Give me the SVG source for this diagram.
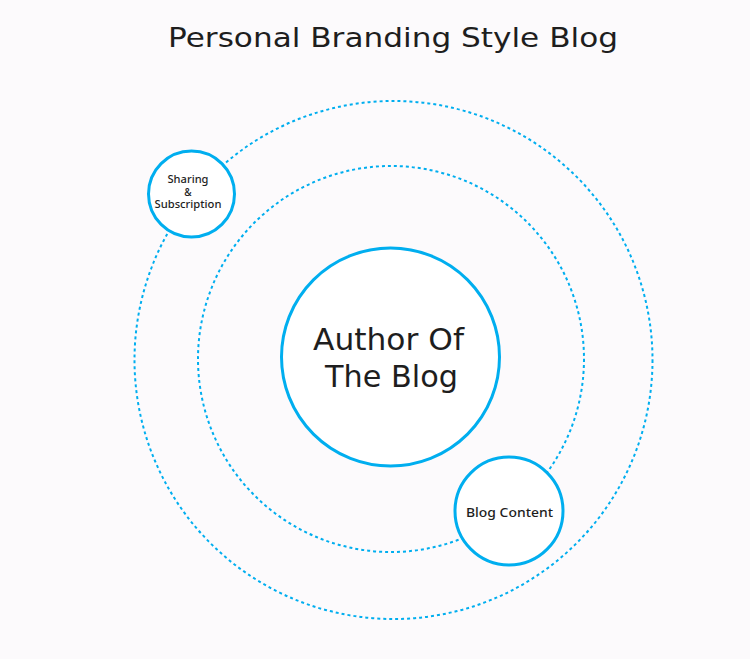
<svg xmlns="http://www.w3.org/2000/svg" width="750" height="659" viewBox="0 0 750 659">
<style>
.orbit{fill:none;stroke:#00aeef;stroke-width:2;stroke-dasharray:3 3}
.node{fill:#ffffff;stroke:#00aeef;stroke-width:3}
text{font-family:"DejaVu Sans","Liberation Sans",sans-serif;fill:#1e1e1e;text-anchor:middle}
.title{font-size:27px}
.main{font-size:30px}
.small{font-family:"Noto Sans","DejaVu Sans",sans-serif;font-size:10px;font-weight:500}
.mid{font-family:"Noto Sans","DejaVu Sans",sans-serif;font-size:12.5px;font-weight:500}
</style>
<rect width="750" height="659" fill="#fcfafc"/>
<text class="title" x="393" y="47" textLength="450" lengthAdjust="spacingAndGlyphs">Personal Branding Style Blog</text>
<g id="connectors">
<circle class="orbit" cx="393.5" cy="360" r="259"/>
<circle class="orbit" cx="391" cy="359" r="193"/>
</g>
<g id="author">
<circle class="node" cx="390.5" cy="357" r="109"/>
<text class="main" x="388.5" y="350" textLength="151" lengthAdjust="spacingAndGlyphs">Author Of</text>
<text class="main" x="391.5" y="387" textLength="133" lengthAdjust="spacingAndGlyphs">The Blog</text>
</g>
<g id="sharing">
<circle class="node" cx="191.5" cy="194" r="43"/>
<text class="small" x="188" y="183" textLength="41" lengthAdjust="spacingAndGlyphs">Sharing</text>
<text class="small" x="188" y="195.5">&amp;</text>
<text class="small" x="188" y="208" textLength="67" lengthAdjust="spacingAndGlyphs">Subscription</text>
</g>
<g id="content">
<circle class="node" cx="509" cy="511" r="54"/>
<text class="mid" x="509.5" y="517" textLength="87" lengthAdjust="spacingAndGlyphs">Blog Content</text>
</g>
</svg>
